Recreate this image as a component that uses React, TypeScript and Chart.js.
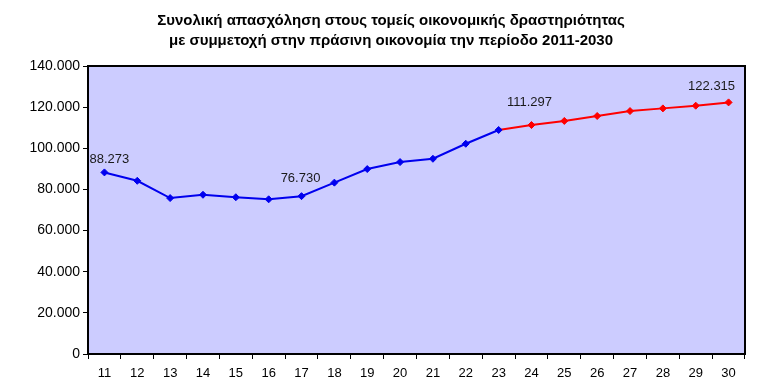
import React, { useEffect, useRef } from "react";
import { Chart, registerables } from "chart.js";

Chart.register(...registerables);

const titleLines = [
  "Συνολική απασχόληση στους τομείς οικονομικής δραστηριότητας",
  "με συμμετοχή στην πράσινη οικονομία την περίοδο 2011-2030",
];

const years = ["11", "12", "13", "14", "15", "16", "17", "18", "19", "20", "21", "22", "23", "24", "25", "26", "27", "28", "29", "30"];

// 2011–2023 (blue)
const historical = [88273, 84200, 75800, 77400, 76200, 75200, 76730, 83300, 89900, 93300, 94900, 102200, 108900];
// 2023–2030 (red)
const projection = [108900, 111297, 113300, 115700, 118100, 119400, 120700, 122315];

const yTicks = [0, 20000, 40000, 60000, 80000, 100000, 120000, 140000];

// indices (into years) of points that carry a value label
const labelledHistorical = [0, 6];
const labelledProjection = [13, 19];

const fmt = (v: number) => {
  const s = Math.round(v).toString();
  return s.replace(/\B(?=(\d{3})+(?!\d))/g, ".");
};

const histData = years.map((_, i) => (i < historical.length ? historical[i] : null));
const projStart = historical.length - 1;
const projData = years.map((_, i) => (i >= projStart ? projection[i - projStart] : null));

const labelOffsets: Record<number, [number, number]> = {
  0: [5, -13],
  6: [-1, -18],
  13: [-2, -23],
  19: [-17, -16],
};

const titlePlugin = {
  id: "twoLineTitle",
  afterDraw(chart: any) {
    const { ctx } = chart;
    ctx.save();
    ctx.font = "bold 15px 'Liberation Sans', Arial, sans-serif";
    ctx.fillStyle = "#000000";
    ctx.textAlign = "center";
    ctx.textBaseline = "middle";
    titleLines.forEach((line, i) => {
      ctx.fillText(line, 383, 13 + i * 20);
    });
    ctx.restore();
  },
};

const bgPlugin = {
  id: "plotBg",
  beforeDatasetsDraw(chart: any) {
    const { ctx, chartArea: a } = chart;
    ctx.save();
    ctx.fillStyle = "#CCCCFF";
    ctx.fillRect(a.left, a.top, a.right - a.left, a.bottom - a.top);
    ctx.restore();
  },
  afterDraw(chart: any) {
    const { ctx, chartArea: a } = chart;
    ctx.save();
    ctx.strokeStyle = "#000000";
    ctx.lineWidth = 2;
    ctx.strokeRect(a.left, a.top, a.right - a.left, a.bottom - a.top);
    ctx.restore();
  },
};

const valueLabelPlugin = {
  id: "valueLabels",
  afterDatasetsDraw(chart: any) {
    const { ctx } = chart;
    ctx.save();
    ctx.font = "13px 'Liberation Sans', Arial, sans-serif";
    ctx.fillStyle = "#1a1a1a";
    ctx.textAlign = "center";
    ctx.textBaseline = "middle";
    const draw = (dsIndex: number, idxs: number[]) => {
      const meta = chart.getDatasetMeta(dsIndex);
      const data = chart.data.datasets[dsIndex].data;
      idxs.forEach((i) => {
        const el = meta.data[i];
        if (!el || data[i] == null) return;
        const [dx, dy] = labelOffsets[i] || [0, -15];
        ctx.fillText(fmt(data[i]), el.x + dx, el.y + dy);
      });
    };
    draw(0, labelledHistorical);
    draw(1, labelledProjection);
    ctx.restore();
  },
};

export default function App() {
  const ref = useRef<HTMLCanvasElement>(null);
  useEffect(() => {
    if (!ref.current) return;
    const chart = new Chart(ref.current, {
      type: "line",
      data: {
        labels: years,
        datasets: [
          {
            label: "2011-2023",
            data: histData,
            borderColor: "#0000EE",
            backgroundColor: "#0000EE",
            borderWidth: 2,
            pointStyle: "rectRot",
            pointRadius: 3.5,
            pointHoverRadius: 3.5,
            pointBorderWidth: 1,
            tension: 0,
            spanGaps: false,
            order: 0,
          },
          {
            label: "2023-2030",
            data: projData,
            borderColor: "#FF0000",
            backgroundColor: "#FF0000",
            borderWidth: 2,
            pointStyle: "rectRot",
            pointRadius: years.map((_, i) => (i === projStart ? 0 : 3.5)),
            pointHoverRadius: 3.5,
            pointBorderWidth: 1,
            tension: 0,
            spanGaps: false,
            order: 1,
          },
        ],
      },
      options: {
        animation: false,
        responsive: true,
        maintainAspectRatio: false,
        layout: { padding: { left: 0, right: 13, top: 58, bottom: 0 } },
        plugins: {
          legend: { display: false },
          tooltip: { enabled: false },
          title: { display: false },
        },
        scales: {
          x: {
            offset: true,
            grid: {
              display: true,
              offset: true,
              drawOnChartArea: false,
              drawTicks: true,
              tickLength: 5,
              color: "#000000",
              lineWidth: 1,
            },
            border: { display: false },
            ticks: {
              color: "#000000",
              font: { family: "'Liberation Sans', Arial, sans-serif", size: 13 },
              padding: 7,
              maxRotation: 0,
              autoSkip: false,
            },
            afterFit: (scale: any) => {
              scale.height = 25;
            },
          },
          y: {
            min: 0,
            max: 140000,
            afterBuildTicks: (scale: any) => {
              scale.ticks = yTicks.map((v) => ({ value: v }));
            },
            grid: {
              display: true,
              drawOnChartArea: false,
              drawTicks: true,
              tickLength: 5,
              color: "#000000",
              lineWidth: 1,
            },
            border: { display: false },
            ticks: {
              color: "#000000",
              font: { family: "'Liberation Sans', Arial, sans-serif", size: 14 },
              padding: 3,
              callback: (v: any) => fmt(Number(v)),
            },
            afterFit: (scale: any) => {
              scale.width = 80;
            },
          },
        },
      },
      plugins: [bgPlugin, valueLabelPlugin, titlePlugin],
    });
    return () => chart.destroy();
  }, []);
  return (
    <div style={{ width: 750, height: 371, position: "relative" }}>
      <canvas ref={ref} />
    </div>
  );
}
